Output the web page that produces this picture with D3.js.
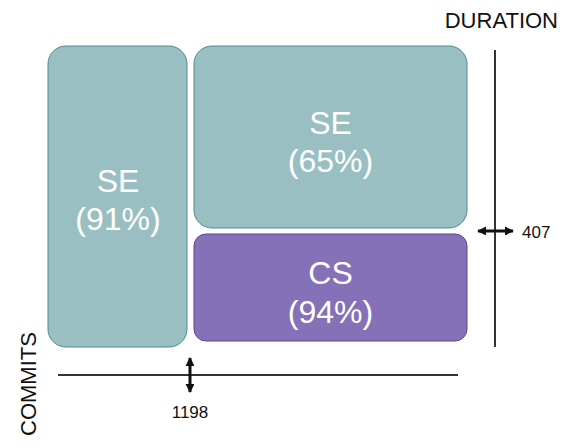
<!DOCTYPE html>
<html><head><meta charset="utf-8">
<script src="https://cdn.jsdelivr.net/npm/d3@7"></script>
<style>body{margin:0;background:#fff;font-family:"Liberation Sans",Arial,sans-serif}</style>
</head><body><div id="chart"></div>
<script>
// split points
const commitSplit = 1198;
const durationSplit = 407;
const commitMax = 3535;
const durationMax = 1056;

const cellNames = ["SE", "SE", "CS"];
const cellPercents = [91, 65, 94];
const cellX0 = [0, commitSplit, commitSplit];
const cellX1 = [commitSplit, commitMax, commitMax];
const cellY0 = [0, durationSplit, 0];
const cellY1 = [durationMax, durationMax, durationSplit];
const cellFill = ["#9abfc2", "#9abfc2", "#8571b7"];
const cellStroke = ["#4f8a8e", "#4f8a8e", "#5b4794"];

const svg = d3.select("#chart").append("svg").attr("width", 576).attr("height", 447);

const x = d3.scaleLinear().domain([0, commitMax]).range([48, 467]);
const y = d3.scaleLinear().domain([0, durationMax]).range([347, 46]);
const gap = 3;

const cells = cellNames.map((n, i) => ({name: n, pct: cellPercents[i], i}));

svg.selectAll("rect.cell").data(cells).enter().append("rect")
  .attr("class", "cell")
  .attr("x", d => x(cellX0[d.i]) + (cellX0[d.i] ? gap + 1 : 0))
  .attr("width", d => x(cellX1[d.i]) - x(cellX0[d.i]) - (cellX0[d.i] ? gap + 1 : gap))
  .attr("y", d => y(cellY1[d.i]) + (cellY1[d.i] < durationMax ? gap : 0))
  .attr("height", d => y(cellY0[d.i]) - y(cellY1[d.i]) - (cellY1[d.i] < durationMax ? gap : 0) - (cellY0[d.i] ? gap : (d.i === 2 ? 6 : 0)))
  .attr("rx", d => d.i === 2 ? 12 : 18)
  .attr("fill", d => cellFill[d.i])
  .attr("stroke", d => cellStroke[d.i])
  .attr("stroke-width", 1);

const labels = svg.selectAll("text.lab").data(cells).enter().append("text")
  .attr("class", "lab")
  .attr("text-anchor", "middle")
  .attr("fill", "#fff")
  .attr("font-size", 32)
  .attr("x", d => (x(cellX0[d.i]) + x(cellX1[d.i])) / 2 + (cellX0[d.i] ? 2 : -1))
  .attr("y", d => (y(cellY0[d.i]) + y(cellY1[d.i])) / 2);
labels.append("tspan").attr("dy", "-0.15em").text(d => d.name);
labels.append("tspan").attr("x", function() { return this.parentNode.getAttribute("x"); })
  .attr("dy", "1.2em").text(d => `(${d.pct}%)`);

// axes
svg.append("line").attr("x1", 58).attr("x2", 458).attr("y1", 375).attr("y2", 375)
  .attr("stroke", "#333").attr("stroke-width", 2);
svg.append("line").attr("x1", 495).attr("x2", 495).attr("y1", 50).attr("y2", 347)
  .attr("stroke", "#333").attr("stroke-width", 2);

const defs = svg.append("defs");
defs.append("marker").attr("id", "ah").attr("viewBox", "0 0 10 10").attr("refX", 9).attr("refY", 5)
  .attr("markerWidth", 3).attr("markerHeight", 3).attr("orient", "auto-start-reverse")
  .append("path").attr("d", "M0,0L10,5L0,10z").attr("fill", "#111");

svg.append("line").attr("x1", x(commitSplit)).attr("x2", x(commitSplit)).attr("y1", 358).attr("y2", 392)
  .attr("stroke", "#111").attr("stroke-width", 3)
  .attr("marker-start", "url(#ah)").attr("marker-end", "url(#ah)");
svg.append("line").attr("x1", 478).attr("x2", 513).attr("y1", y(durationSplit)).attr("y2", y(durationSplit))
  .attr("stroke", "#111").attr("stroke-width", 3)
  .attr("marker-start", "url(#ah)").attr("marker-end", "url(#ah)");

svg.append("text").attr("x", x(commitSplit)).attr("y", 418).attr("text-anchor", "middle")
  .attr("font-size", 17).attr("fill", "#111").text(commitSplit);
svg.append("text").attr("x", 522).attr("y", y(durationSplit) + 7)
  .attr("font-size", 17).attr("fill", "#111").text(durationSplit);

svg.append("text").attr("x", 558).attr("y", 28).attr("text-anchor", "end")
  .attr("font-size", 22).attr("fill", "#111").text("DURATION");
svg.append("text").attr("transform", "translate(36,436) rotate(-90)")
  .attr("font-size", 22).attr("fill", "#111").text("COMMITS");
</script></body></html>
